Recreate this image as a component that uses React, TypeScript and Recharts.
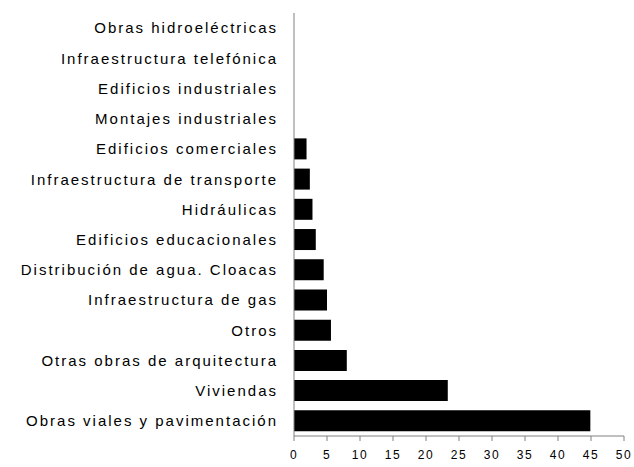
import { BarChart, Bar, XAxis, YAxis } from 'recharts';

const categories = [
  'Obras hidroeléctricas',
  'Infraestructura telefónica',
  'Edificios industriales',
  'Montajes industriales',
  'Edificios comerciales',
  'Infraestructura de transporte',
  'Hidráulicas',
  'Edificios educacionales',
  'Distribución de agua. Cloacas',
  'Infraestructura de gas',
  'Otros',
  'Otras obras de arquitectura',
  'Viviendas',
  'Obras viales y pavimentación',
];

const values = [0, 0, 0, 0, 1.9, 2.4, 2.8, 3.3, 4.5, 5.0, 5.6, 8.0, 23.3, 44.9];

const xTicks = [0, 5, 10, 15, 20, 25, 30, 35, 40, 45, 50];

const data = categories.map((name, i) => ({ name, value: values[i] }));

const font = 'Arial, "Liberation Sans", sans-serif';

export default function App() {
  return (
    <div style={{ position: 'fixed', left: 0, top: 0, background: '#fff' }}>
      <BarChart
        width={634}
        height={467}
        data={data}
        layout="vertical"
        margin={{ top: 13, right: 10, bottom: 0, left: 0 }}
        barCategoryGap="15%"
      >
        <XAxis
          type="number"
          domain={[0, 50]}
          ticks={xTicks}
          interval={0}
          height={31}
          stroke="#808080"
          tickSize={5}
          tickMargin={9}
          tick={{ fill: '#000', fontSize: 12, fontFamily: font, letterSpacing: 1.5 }}
        />
        <YAxis
          type="category"
          dataKey="name"
          width={294}
          stroke="#808080"
          tickLine={false}
          tickMargin={10}
          interval={0}
          tick={{ fill: '#000', fontSize: 15, fontFamily: font, letterSpacing: 2 }}
        />
        <Bar dataKey="value" fill="#000" isAnimationActive={false} />
      </BarChart>
    </div>
  );
}
